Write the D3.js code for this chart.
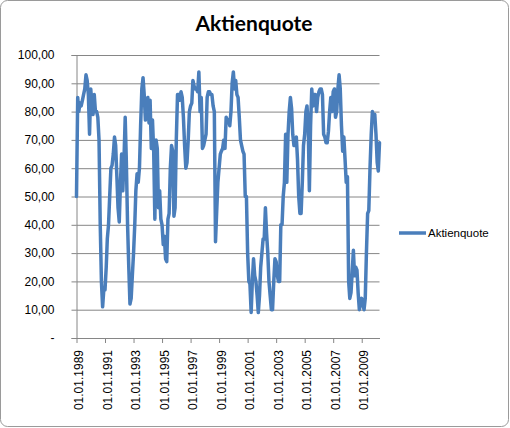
<!DOCTYPE html>
<html>
<head>
<meta charset="utf-8">
<script src="https://cdn.jsdelivr.net/npm/d3@7"></script>
<style>
  body { margin: 0; background: #fff; }
  svg { display: block; }
</style>
</head>
<body>
<svg id="chart" width="510" height="428"></svg>
<script>
// Aktienquote, one value per month, Jan 1989 .. Apr 2010
const years = [1989, 1990, 1991, 1992, 1993, 1994, 1995, 1996, 1997, 1998, 1999,
               2000, 2001, 2002, 2003, 2004, 2005, 2006, 2007, 2008, 2009, 2010];
const monthly = [
  [50, 85, 80, 83, 82, 84, 86, 88, 93, 91, 86, 72],
  [88, 82, 79, 86, 80, 80, 78, 70, 40, 20, 11, 17],
  [17, 25, 35, 40, 50, 60, 61, 65, 71, 68, 57, 46],
  [41, 55, 65, 52, 63, 78, 62, 40, 25, 12, 14, 22],
  [30, 40, 52, 58, 55, 60, 75, 88, 92, 86, 77, 84],
  [85, 76, 84, 67, 77, 66, 42, 70, 67, 46, 52, 42],
  [40, 33, 36, 28, 27, 42, 44, 60, 68, 66, 43, 46],
  [70, 86, 86, 84, 87, 85, 78, 68, 60, 62, 70, 80],
  [82, 83, 91, 89, 88, 88, 87, 94, 80, 85, 67, 68],
  [70, 72, 85, 87, 87, 86, 86, 82, 80, 34, 45, 55],
  [60, 65, 66, 67, 70, 67, 78, 77, 77, 75, 80, 90],
  [94, 88, 91, 86, 85, 78, 70, 68, 66, 65, 50, 50],
  [30, 20, 19,  9, 20, 28, 22, 20, 15,  9, 15, 25],
  [30, 35, 35, 46, 37, 30, 20, 15, 10, 10, 20, 28],
  [27, 22, 20, 20, 40, 40, 50, 55, 72, 55, 72, 80],
  [85, 81, 72, 68, 70, 71, 63, 50, 44, 44, 55, 68],
  [72, 80, 82, 75, 52, 75, 88, 82, 86, 86, 80, 85],
  [87, 88, 88, 86, 72, 71, 69, 69, 73, 80, 85, 80],
  [87, 88, 78, 80, 88, 93, 88, 75, 66, 71, 63, 55],
  [57, 20, 14, 16, 23, 31, 22, 25, 24, 16, 10, 12],
  [14, 12, 10, 14, 30, 44, 45, 60, 72, 80, 77, 79],
  [72, 62, 59, 69]
];
const xTickYears = [1989, 1991, 1993, 1995, 1997, 1999, 2001, 2003, 2005, 2007, 2009];
const yTicks = [0, 10, 20, 30, 40, 50, 60, 70, 80, 90, 100];
const yTickLabels = ['-', '10,00', '20,00', '30,00', '40,00', '50,00',
                     '60,00', '70,00', '80,00', '90,00', '100,00'];
const seriesName = 'Aktienquote';

// flatten into points
const data = [];
years.forEach((yr, i) => {
  monthly[i].forEach((v, m) => data.push({ date: new Date(yr, m, 1), value: v }));
});

const svg = d3.select('#chart');
const gridCol = '#868686';
const lineCol = '#4a7ebb';

// outer chart frame
svg.append('rect')
  .attr('x', 0.5).attr('y', 0.5)
  .attr('width', 508).attr('height', 426)
  .attr('rx', 7)
  .attr('fill', '#fff')
  .attr('stroke', '#9a9a9a');

const x = d3.scaleTime()
  .domain(d3.extent(data, d => d.date))
  .range([76.5, 379.5]);
const y = d3.scaleLinear().domain([0, 100]).range([338, 55]);

// title
svg.append('text')
  .attr('x', 254).attr('y', 31)
  .attr('text-anchor', 'middle')
  .attr('font-family', 'Lato, sans-serif')
  .attr('font-weight', 'bold')
  .attr('font-size', '21px')
  .text('Aktienquote');

// gridlines
svg.append('g')
  .attr('transform', 'translate(76.5,0)')
  .call(d3.axisLeft(y).tickValues(yTicks.slice(1)).tickSize(-303).tickFormat(''))
  .call(g => g.select('.domain').remove())
  .call(g => g.selectAll('line').attr('stroke', gridCol));

// y axis
const yAxis = svg.append('g')
  .attr('transform', 'translate(76.5,0)')
  .call(d3.axisLeft(y).tickValues(yTicks).tickSize(5).tickPadding(17)
    .tickFormat((d, i) => yTickLabels[i]));
yAxis.select('.domain').attr('stroke', gridCol);
yAxis.selectAll('line').attr('stroke', gridCol);
yAxis.selectAll('text')
  .attr('font-family', '"Liberation Sans", Arial, sans-serif')
  .attr('font-size', '12px')
  .attr('fill', '#000');

// x axis
const xAxis = svg.append('g')
  .attr('transform', 'translate(0,338)')
  .call(d3.axisBottom(x)
    .tickValues(xTickYears.map(yr => new Date(yr, 0, 1)))
    .tickSize(5)
    .tickSizeOuter(0)
    .tickFormat(d3.timeFormat('%d.%m.%Y')));
xAxis.select('.domain').attr('stroke', gridCol);
xAxis.selectAll('line').attr('stroke', gridCol);
xAxis.selectAll('text')
  .attr('font-family', '"Liberation Sans", Arial, sans-serif')
  .attr('font-size', '12px')
  .attr('fill', '#000')
  .attr('text-anchor', 'end')
  .attr('transform', 'rotate(-90)')
  .attr('x', -12)
  .attr('y', 2)
  .attr('dy', '0.35em');

// the series
const line = d3.line()
  .x(d => x(d.date))
  .y(d => y(d.value));
svg.append('path')
  .datum(data)
  .attr('fill', 'none')
  .attr('stroke', lineCol)
  .attr('stroke-width', 3.5)
  .attr('stroke-linejoin', 'round')
  .attr('stroke-linecap', 'round')
  .attr('d', line);

// legend
const legend = svg.append('g').attr('transform', 'translate(399,233)');
legend.append('line')
  .attr('x1', 0).attr('x2', 27)
  .attr('stroke', lineCol)
  .attr('stroke-width', 3.5);
legend.append('text')
  .attr('x', 29).attr('y', 0)
  .attr('dy', '0.35em')
  .attr('font-family', '"Liberation Sans", Arial, sans-serif')
  .attr('font-size', '11.5px')
  .text(seriesName);
</script>
</body>
</html>
